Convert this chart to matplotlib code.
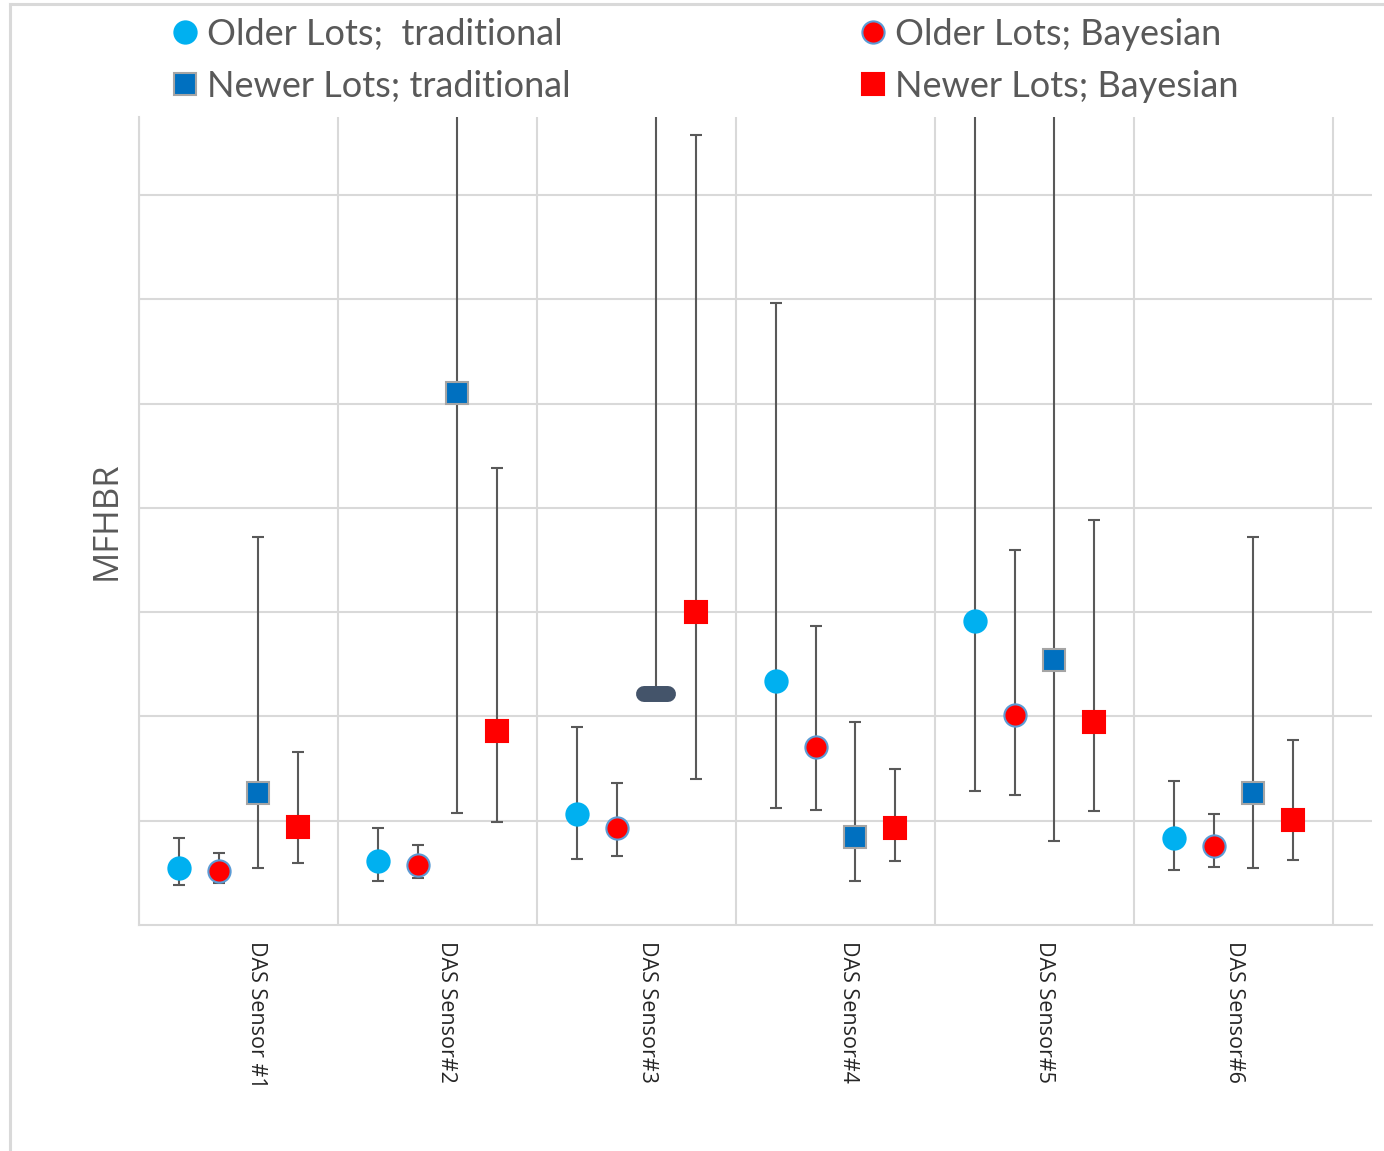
import matplotlib
matplotlib.use("Agg")
import matplotlib.pyplot as plt
from matplotlib.lines import Line2D
from matplotlib.markers import MarkerStyle
from matplotlib.transforms import ScaledTranslation, blended_transform_factory
import numpy as np

# ---------------- data ----------------
categories = ["DAS Sensor #1", "DAS Sensor#2", "DAS Sensor#3",
              "DAS Sensor#4", "DAS Sensor#5", "DAS Sensor#6"]

older_trad = [0.55, 0.61, 1.06, 2.34, 2.92, 0.83]
older_trad_lo = [0.38, 0.42, 0.63, 1.12, 1.29, 0.53]
older_trad_hi = [0.83, 0.93, 1.90, 5.97, 8.50, 1.38]

older_bayes = [0.52, 0.58, 0.93, 1.71, 2.01, 0.76]
older_bayes_lo = [0.40, 0.45, 0.66, 1.10, 1.25, 0.56]
older_bayes_hi = [0.69, 0.77, 1.36, 2.87, 3.60, 1.06]

newer_trad = [1.27, 5.10, 2.22, 0.84, 2.54, 1.27]
newer_trad_lo = [0.55, 1.07, 2.22, 0.42, 0.81, 0.55]
newer_trad_hi = [3.72, 8.50, 8.50, 1.95, 8.50, 3.72]

newer_bayes = [0.94, 1.86, 3.00, 0.93, 1.95, 1.01]
newer_bayes_lo = [0.59, 0.99, 1.40, 0.61, 1.09, 0.62]
newer_bayes_hi = [1.66, 4.38, 7.58, 1.50, 3.88, 1.77]

legend_labels = ["Older Lots;  traditional", "Older Lots; Bayesian",
                 "Newer Lots; traditional", "Newer Lots; Bayesian"]

# ---------------- figure ----------------
W, H = 1384, 1151
fig = plt.figure(figsize=(W / 100, H / 100), dpi=100)
ax = fig.add_axes([139 / W, 1 - 925 / H, (1372 - 139) / W, (925 - 117) / H])

grid_c = "#D9D9D9"
err_c = "#595959"
x = np.arange(1, len(categories) + 1)

series = [
    (older_trad, older_trad_lo, older_trad_hi, -0.3, "o", "#00B0F0", "#00B0F0"),
    (older_bayes, older_bayes_lo, older_bayes_hi, -0.1, "o", "#FF0000", "#5B9BD5"),
    (newer_trad, newer_trad_lo, newer_trad_hi, 0.1, "s", "#0070C0", "#A5A5A5"),
    (newer_bayes, newer_bayes_lo, newer_bayes_hi, 0.3, "s", "#FF0000", "#FF0000"),
]

handles = []
for vals, lo, hi, off, mk, fc, ec in series:
    v = np.array(vals)
    yerr = [v - np.array(lo), np.array(hi) - v]
    ax.errorbar(x + off, v, yerr=yerr, fmt="none", ecolor=err_c,
                elinewidth=1.5, capsize=4.5, capthick=1.5, zorder=3)
    ms = 16 if mk == "o" else 15.5
    if mk == "s" and fc == "#0070C0":
        special = 2
        idx = [i for i in range(len(v)) if i != special]
        ax.plot(x[idx] + off, v[idx], ls="none", marker=mk, ms=ms, mfc=fc,
                mec=ec, mew=1.5, zorder=4)
        ax.plot([x[special] + off], [v[special]], ls="none",
                marker=MarkerStyle("_", capstyle="round"), ms=17,
                mec="#44546A", mew=11.5, zorder=4)
    else:
        ax.plot(x + off, v, ls="none", marker=mk, ms=ms, mfc=fc, mec=ec,
                mew=1.5, zorder=4)
    handles.append(Line2D([], [], ls="none", marker=mk, ms=16, mfc=fc,
                          mec=ec, mew=1.5))

# axes styling
ax.set_xlim(0.5, 6.5 + 39 / 199)
ax.set_ylim(0, 7.75)
ax.set_yticks(np.arange(1, 8))
ax.set_yticklabels([])
ax.tick_params(axis="y", length=0)
ax.grid(axis="y", color=grid_c, lw=1.5, zorder=0)
ax.set_xticks(np.arange(0.5, 7.0, 1.0), minor=True)
ax.grid(axis="x", which="minor", color=grid_c, lw=1.5, zorder=0)
ax.tick_params(axis="x", which="both", length=0)
ax.set_xticks(x)
ax.set_xticklabels([])
for s in ["top", "right"]:
    ax.spines[s].set_visible(False)
for s in ["left", "bottom"]:
    ax.spines[s].set_color(grid_c)
    ax.spines[s].set_linewidth(1.5)

# category labels (rotated, reading downward)
btr = blended_transform_factory(ax.transData, ax.transAxes)
lbl_off = [18, 9, 11, 13, 10, 1]
for xi, name, dx in zip(x, categories, lbl_off):
    ax.text(xi, 0, name, rotation=-90, ha="center", va="top",
            fontsize=15.5, fontfamily="Open Sans", color="#262626",
            transform=btr + ScaledTranslation(dx / 100, -16 / 100,
                                              fig.dpi_scale_trans))

ax.set_ylabel("MFHBR", fontsize=25, color="#595959", fontfamily="Open Sans")
ax.yaxis.set_label_coords(-0.0122, 0.5)

# legend
order = [0, 2, 1, 3]
fig.legend([handles[i] for i in order], [legend_labels[i] for i in order],
           ncol=2, loc="upper left", bbox_to_anchor=(142 / W, 1 + 15 / H),
           frameon=False, prop={"family": "Lato", "size": 26},
           labelcolor="#595959", handlelength=0.6, handletextpad=0.3,
           columnspacing=8.07, labelspacing=0.53)

# chart area border
fig.add_artist(Line2D([10 / W, 10 / W], [0, 1 - 4 / H], color=grid_c, lw=2.2,
                      transform=fig.transFigure))
fig.add_artist(Line2D([10 / W, 1], [1 - 4 / H, 1 - 4 / H], color=grid_c, lw=2.2,
                      transform=fig.transFigure))

fig.savefig("out.png", dpi=100)
